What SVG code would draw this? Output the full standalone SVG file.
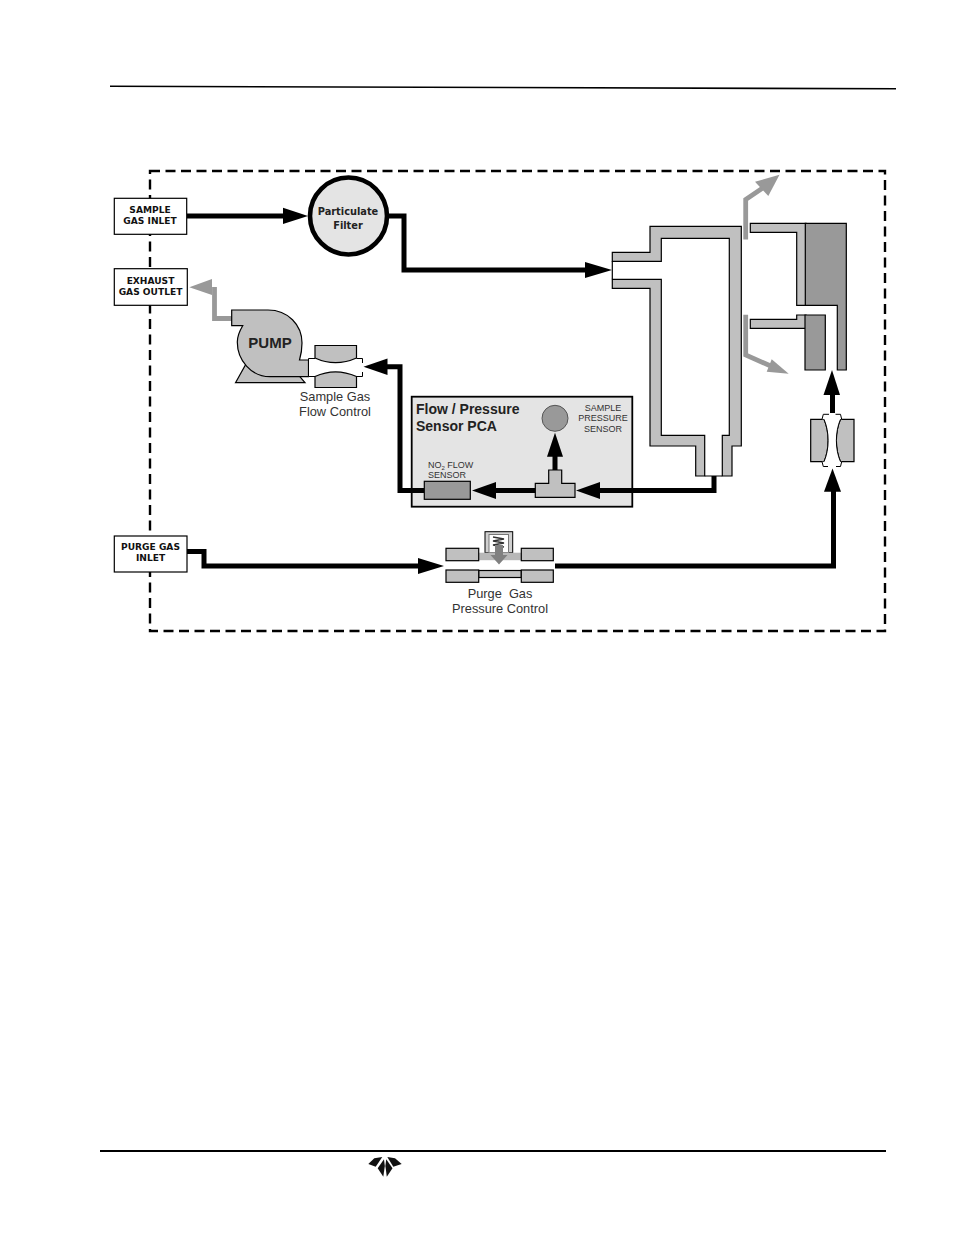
<svg xmlns="http://www.w3.org/2000/svg" width="954" height="1235" viewBox="0 0 954 1235">
<style>
  text { font-family: "Liberation Sans", Arial, sans-serif; fill: #222; }
  .box { fill: #fff; stroke: #000; stroke-width: 1.2; }
  .tag { font-family: "DejaVu Sans", Verdana, sans-serif; font-weight: bold; font-size: 9.1px; text-anchor: middle; fill: #111; }
  .lbl { font-size: 12.8px; text-anchor: middle; fill: #333; }
  .small { font-size: 9px; fill: #333; }
  .part { fill: #c0c0c0; stroke: #000; stroke-width: 1.2; }
  .dark { fill: #999; stroke: #000; stroke-width: 1.2; }
  .flow { fill: none; stroke: #000; stroke-width: 5; stroke-linejoin: miter; }
  .vent { fill: none; stroke: #999; stroke-width: 4.8; stroke-linejoin: miter; }
  .head { fill: #000; }
  .ghead { fill: #999; }
</style>

<!-- page rules -->
<path d="M110 86.3 L896 88.8" fill="none" stroke="#000" stroke-width="1.6"/>
<rect x="100" y="1150" width="786" height="2" fill="#000"/>

<!-- enclosure outline -->
<rect id="enclosure" x="150" y="171" width="735" height="460" fill="none" stroke="#000" stroke-width="2.4" stroke-dasharray="10 5.5"/>

<!-- circuit board behind its sensors -->
<g id="sensor-board">
  <rect x="411.7" y="396.7" width="220.6" height="110" fill="#e4e4e4" stroke="#000" stroke-width="1.8"/>
  <text x="416" y="414" font-size="14" font-weight="bold" fill="#111">Flow / Pressure</text>
  <text x="416" y="431" font-size="14" font-weight="bold" fill="#111">Sensor PCA</text>
  <text x="603" y="411" class="small" text-anchor="middle">SAMPLE</text>
  <text x="603" y="421" class="small" text-anchor="middle">PRESSURE</text>
  <text x="603" y="432" class="small" text-anchor="middle">SENSOR</text>
  <text x="428" y="468" class="small">NO<tspan font-size="6" dy="1.5">2</tspan><tspan dy="-1.5"> FLOW</tspan></text>
  <text x="428" y="478" class="small">SENSOR</text>
</g>

<!-- connectors -->
<g id="connectors">
  <path class="flow" d="M187 216 H287"/>
  <path class="head" d="M283 207.7 L308 216 L283 224 Z"/>
  <path class="flow" d="M388 216 H404 V270 H590"/>
  <path class="head" d="M585 262 L612 270 L585 278 Z"/>
  <path class="flow" d="M714 476 V490.5 H598"/>
  <path class="head" d="M600 482 L576 490.5 L600 499 Z"/>
  <path class="flow" d="M536 490.5 H494"/>
  <path class="head" d="M496 482 L472 490.5 L496 499 Z"/>
  <path class="flow" d="M555 471 V454"/>
  <path class="head" d="M547 456.7 L555 432.7 L563 456.7 Z"/>
  <path class="flow" d="M424 490.5 H400 V366.7 H385"/>
  <path class="head" d="M387.5 358.5 L363.5 366.7 L387.5 375 Z"/>
  <path class="flow" d="M187 551.5 H204 V566 H421"/>
  <path class="head" d="M418 558 L444 566 L418 574 Z"/>
  <path class="flow" d="M555 566 H833.5 V489"/>
  <path class="head" d="M824 491.7 L832.5 468.5 L841 491.7 Z"/>
  <path class="flow" d="M832.5 413 V392"/>
  <path class="head" d="M823.5 395 L832 370 L840 395 Z"/>
  <path class="vent" d="M232 318.5 H214.5 V287"/>
  <path class="ghead" d="M212 279 L189.3 287.3 L212 295 Z"/>
  <path class="vent" d="M745.7 239.5 V199.5 L767 185"/>
  <path class="ghead" d="M755 181.7 L779.5 174.7 L768.3 196 Z"/>
  <path class="vent" d="M745.7 314.7 V355 L773 367"/>
  <path class="ghead" d="M771.7 359.3 L788.7 373.7 L766.7 371.7 Z"/>
</g>

<g id="sample-gas-inlet">
  <rect class="box" x="114.3" y="198.3" width="72.4" height="36"/>
  <text class="tag" x="150" y="213">SAMPLE</text>
  <text class="tag" x="150" y="223.5">GAS INLET</text>
</g>

<g id="exhaust-gas-outlet">
  <rect class="box" x="114.3" y="268.7" width="73" height="36.6"/>
  <text class="tag" x="150.5" y="283.5">EXHAUST</text>
  <text class="tag" x="150.5" y="294.5">GAS OUTLET</text>
</g>

<g id="purge-gas-inlet">
  <rect class="box" x="114.3" y="536" width="72.7" height="36"/>
  <text class="tag" x="150.5" y="550">PURGE GAS</text>
  <text class="tag" x="150.5" y="561">INLET</text>
</g>

<g id="particulate-filter">
  <circle cx="348.5" cy="216" r="38.5" fill="#e4e4e4" stroke="#000" stroke-width="4.6"/>
  <text x="348" y="215" text-anchor="middle" font-weight="bold" font-size="9.8" style="font-family:'DejaVu Sans',sans-serif">Particulate</text>
  <text x="348" y="229" text-anchor="middle" font-weight="bold" font-size="9.8" style="font-family:'DejaVu Sans',sans-serif">Filter</text>
</g>

<g id="pump">
  <path class="part" d="M235.5 382.7 L246 364 L296 372 L305 382.7 Z"/>
  <path class="part" d="M231.7 310 H268 C288 310 302 325 302 343 C302 349 301 355 299.5 360 H308.5 V376.7 H270 C251 376.7 237.3 360 237.3 342 C237.3 336 239.5 331 242.7 325.7 H231.7 Z"/>
  <text x="270" y="348" text-anchor="middle" font-size="15" font-weight="bold" fill="#111">PUMP</text>
</g>

<g id="sample-flow-control">
  <path d="M308.5 358.5 H362.5 V376.5 H308.5 Z" fill="#fff"/>
  <path d="M315 358.5 H308.5 V376.5 H315 M356.5 358.5 H362.5 V363 M362.5 372 V376.5 H356.5" fill="none" stroke="#000" stroke-width="1"/>
  <path class="part" d="M315 345.5 H356.5 V358 C343 364 328 364 315 358 Z"/>
  <path class="part" d="M315 387.5 H356.5 V376.5 C343 370.5 328 370.5 315 376.5 Z"/>
  <text class="lbl" x="335" y="401">Sample Gas</text>
  <text class="lbl" x="335" y="416">Flow Control</text>
</g>

<g id="sensors">
  <circle cx="555" cy="418.3" r="13" fill="#999" stroke="#555" stroke-width="1"/>
  <path class="part" d="M548.7 470 H561.7 V483.3 H575 V497.3 H535.3 V483.3 H548.7 Z"/>
  <rect class="dark" x="424.3" y="481.3" width="46" height="18"/>
</g>

<g id="purge-pressure-control">
  <rect x="485" y="531.7" width="27.7" height="21" fill="#d0d0d0" stroke="#000" stroke-width="1"/>
  <rect x="489" y="534.5" width="19.5" height="18" fill="#fff" stroke="#777" stroke-width="1"/>
  <path d="M493 537 L504 539 L493 541 L504 543 L493 545 L504 547" fill="none" stroke="#333" stroke-width="1.3"/>
  <rect x="478.7" y="552.7" width="42.6" height="7.5" fill="#b8b8b8"/>
  <rect class="part" x="446" y="548.3" width="32.7" height="12.4"/>
  <rect class="part" x="521.3" y="548.3" width="32" height="12.4"/>
  <rect class="part" x="478.7" y="570.5" width="42.6" height="7"/>
  <rect class="part" x="446" y="570" width="32.7" height="12.3"/>
  <rect class="part" x="521.3" y="570" width="32" height="12.3"/>
  <path d="M495 545 H503 V555 H507.5 L499 564.5 L490.5 555 H495 Z" fill="#808080"/>
  <text class="lbl" x="500" y="598" xml:space="preserve">Purge  Gas</text>
  <text class="lbl" x="500" y="613">Pressure Control</text>
</g>

<g id="measurement-chamber">
  <path class="part" d="M612.3 252.3 H650 V226.3 H741.3 V446 H732 V476 H722.3 V435.3 H729.3 V238.3 H661.3 V261.3 H612.3 Z"/>
  <path class="part" d="M612.3 279.3 H661.3 V435.3 H704.7 V476 H695.7 V446 H650 V288.3 H612.3 Z"/>
  <path d="M612.3 261.3 V279.3 M704.7 476 H722.3" fill="none" stroke="#000" stroke-width="1.2"/>
</g>

<g id="reference-cell">
  <path class="part" d="M750.3 223.3 H806 V305.3 H796.7 V232.3 H750.3 Z"/>
  <path class="dark" d="M805.3 223.3 H846.3 V370 H837.3 V305.3 H805.3 Z"/>
  <path class="part" d="M750.3 319.3 H796.7 V315 H806 V328.3 H750.3 Z"/>
  <path class="dark" d="M805 315 H825.3 V370 H805 Z"/>
</g>

<g id="purge-flow-control">
  <path class="part" d="M810.7 419.3 H824 C829.5 432 829.5 449 824 461.7 H810.7 Z"/>
  <path class="part" d="M854 419.3 H840.5 C835 432 835 449 840.5 461.7 H854 Z"/>
  <path d="M823.3 414.3 H840.5 L841.7 419.3 H840.5 C835 432 835 449 840.5 461.7 H841.7 L840.5 466.5 H823.3 L822 461.7 H824 C829.5 449 829.5 432 824 419.3 H822 Z" fill="#fff"/>
  <path d="M829 414.3 H823.3 L822 419.3 M835.5 414.3 H840.5 L841.7 419.3 M822 461.7 L823.3 466.5 H828 M841.7 461.7 L840.5 466.5 H836" fill="none" stroke="#000" stroke-width="1"/>
  <path d="M824 419.3 C829.5 432 829.5 449 824 461.7 M840.5 419.3 C835 432 835 449 840.5 461.7" fill="none" stroke="#000" stroke-width="1"/>
</g>

<g id="logo" fill="#111">
  <path d="M368.3 1164 L374.3 1158.3 L382.3 1157 L375.7 1166.7 Z"/>
  <path d="M384 1159.3 L377.7 1168.3 L383.3 1176.7 L384.8 1166 Z"/>
  <path d="M401.7 1164 L395 1158.3 L387.3 1157 L393.3 1166.7 Z"/>
  <path d="M386.2 1159.3 L392.5 1168.3 L386.8 1176.7 L385.4 1166 Z"/>
</g>
</svg>
